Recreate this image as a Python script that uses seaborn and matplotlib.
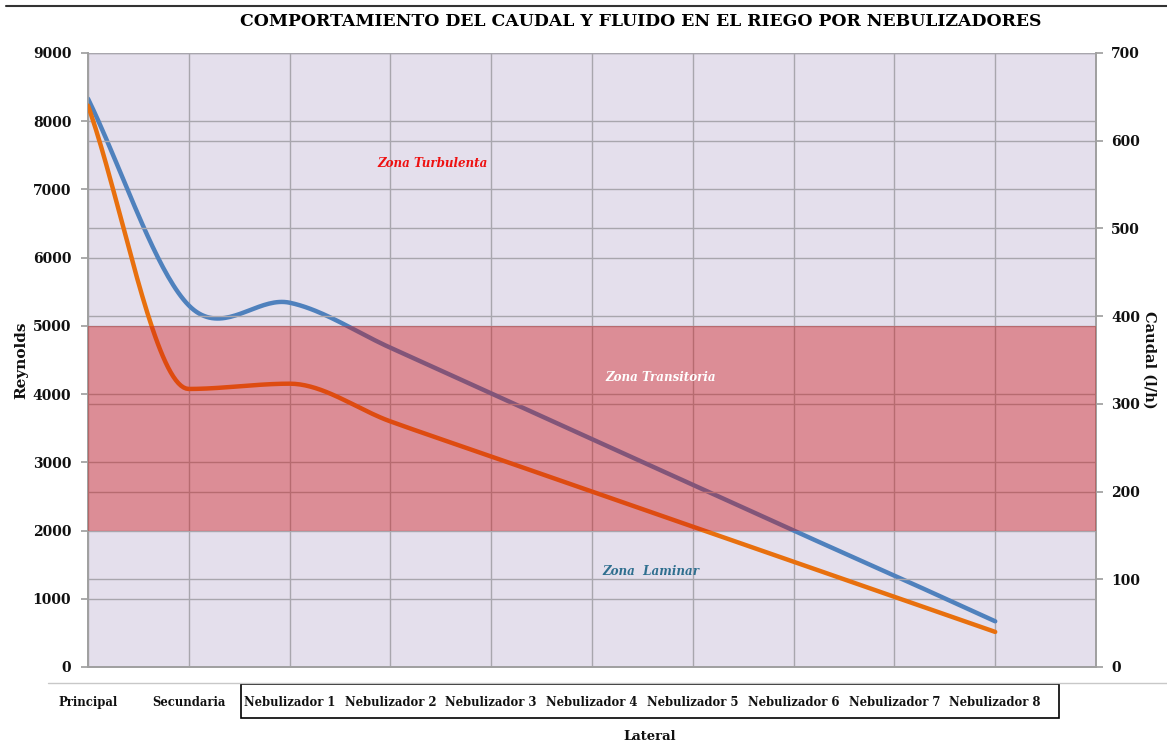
import numpy as np
import pandas as pd
import seaborn as sns
import matplotlib
matplotlib.use('Agg')
import matplotlib.pyplot as plt
from matplotlib.patches import Rectangle
from matplotlib.lines import Line2D

# Datos
tramos = ['Principal', 'Secundaria', 'Nebulizador 1', 'Nebulizador 2', 'Nebulizador 3',
          'Nebulizador 4', 'Nebulizador 5', 'Nebulizador 6', 'Nebulizador 7', 'Nebulizador 8']
reynolds = [8330, 5300, 5340, 4680, 4010, 3340, 2670, 2000, 1340, 670]
caudal = [640, 317, 323, 280, 240, 200, 160, 120, 80, 40]
zona_limites = [2000, 5000]
zonas = ['Zona Turbulenta', 'Zona Transitoria', 'Zona  Laminar']

sns.set_theme(style='white')
plt.rcParams['font.family'] = ['DejaVu Serif']
plt.rcParams['text.color'] = '#111111'
plt.rcParams['axes.labelcolor'] = '#111111'
plt.rcParams['xtick.color'] = '#111111'
plt.rcParams['ytick.color'] = '#111111'

# Linea suavizada (estilo "linea suavizada" de Excel) sobre los puntos
def suavizar(y, monotona=False, n=40):
    y = np.asarray(y, dtype=float)
    d = np.diff(y)
    m = np.empty_like(y)
    m[1:-1] = (y[2:] - y[:-2]) / 2
    m[0], m[-1] = d[0], d[-1]
    if monotona:
        for i in range(1, len(y) - 1):
            if d[i - 1] * d[i] <= 0:
                m[i] = 0
    xs, ys = [], []
    t = np.linspace(0, 1, n)
    for i in range(len(y) - 1):
        h00 = 2*t**3 - 3*t**2 + 1
        h10 = t**3 - 2*t**2 + t
        h01 = -2*t**3 + 3*t**2
        h11 = t**3 - t**2
        xs.append(i + t)
        ys.append(h00*y[i] + h10*m[i] + h01*y[i+1] + h11*m[i+1])
    return pd.DataFrame({'x': np.concatenate(xs), 'y': np.concatenate(ys)})

df_re = suavizar(reynolds)
df_q = suavizar(caudal, monotona=True)

fig = plt.figure(figsize=(11.67, 7.47), dpi=100)
ax = fig.add_axes([88/1167, 1-667/747, 1008/1167, 614/747])
ax2 = ax.twinx()

grid_c = '#a8a6ad'
ax.set_facecolor('#e4dfec')
sns.lineplot(data=df_re, x='x', y='y', ax=ax, color='#4f81bd', lw=3.2, sort=False, zorder=3)
sns.lineplot(data=df_q, x='x', y='y', ax=ax2, color='#e8700e', lw=3.2, sort=False, zorder=3)

ax.set_xlim(0, 10)
ax.set_ylim(0, 9000)
ax2.set_ylim(0, 700)
ax.set_yticks(range(0, 9001, 1000))
ax2.set_yticks(range(0, 701, 100))
ax.set_xticks(range(11))
ax.set_xticklabels(tramos + [''])
ax.grid(True, color=grid_c, lw=1)
ax2.grid(True, axis='y', color=grid_c, lw=1, zorder=0.5)
ax2.set_axisbelow(True)

# Banda de zona transitoria por encima de las lineas
ax2.add_patch(Rectangle((0, zona_limites[0]), 10, zona_limites[1] - zona_limites[0],
                        transform=ax.transData, facecolor=(208/255, 20/255, 21/255),
                        alpha=0.4, edgecolor='none', zorder=4))

for a in (ax, ax2):
    for s in a.spines.values():
        s.set_color('#a0a0a0')
    a.spines['top'].set_visible(False)
    for lab in a.get_yticklabels():
        lab.set_fontsize(10)
        lab.set_fontweight('bold')
ax.tick_params(axis='y', length=5, color='#a0a0a0', pad=7, left=True)
ax2.tick_params(axis='y', length=5, color='#a0a0a0', pad=6, right=True)
ax.tick_params(axis='x', length=0, pad=21)
for lab in ax.get_xticklabels():
    lab.set_fontsize(8.4)
    lab.set_fontweight('bold')

ax.set_xlabel('')
ax.set_ylabel('Reynolds', fontsize=11, fontweight='bold')
ax.yaxis.set_label_coords(-0.0595, 0.5)
ax2.set_ylabel('Caudal (l/h)', fontsize=10.5, fontweight='bold', rotation=270, va='center')
ax2.yaxis.set_label_coords(1.053, 0.5)

# Etiquetas de zonas
ax2.text(3.42, 7380, zonas[0], transform=ax.transData, ha='center', va='center',
         color='#ee1111', fontsize=8.6, fontweight='bold', style='italic', zorder=5)
ax2.text(5.68, 4250, zonas[1], transform=ax.transData, ha='center', va='center',
         color='white', fontsize=8.6, fontweight='bold', style='italic', zorder=5)
ax2.text(5.58, 1400, zonas[2], transform=ax.transData, ha='center', va='center',
         color='#2f6f8f', fontsize=8.6, fontweight='bold', style='italic', zorder=5)

fig.text(641/1167, 1-22/747, 'COMPORTAMIENTO DEL CAUDAL Y FLUIDO EN EL RIEGO POR NEBULIZADORES',
         ha='center', va='center', fontsize=12.4, fontweight='bold', color='black')
fig.text(650/1167, 1-736/747, 'Lateral', ha='center', va='center', fontsize=9.5, fontweight='bold')

# Recuadro de nebulizadores y lineas de la tabla
fig.add_artist(Rectangle((241/1167, 1-718/747), 818/1167, 34/747, transform=fig.transFigure,
                         fill=False, edgecolor='black', lw=1.2))
fig.add_artist(Line2D([48/1167, 1], [1-683/747]*2, transform=fig.transFigure, color='#c8c8c8', lw=1))
fig.add_artist(Line2D([6/1167, 1], [1-6/747]*2, transform=fig.transFigure, color='#333333', lw=1.5))

fig.savefig('out.png', dpi=100)
